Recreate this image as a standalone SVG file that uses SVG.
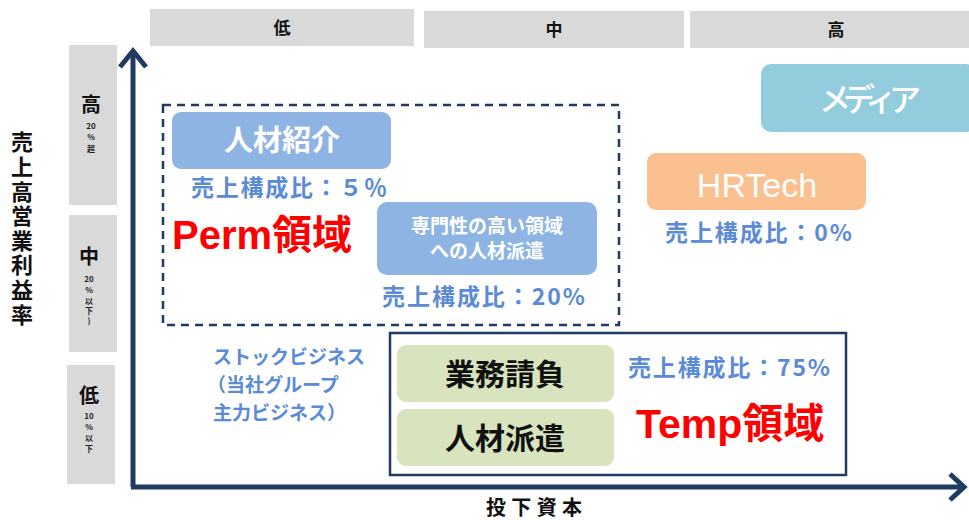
<svg xmlns="http://www.w3.org/2000/svg" width="969" height="520" viewBox="0 0 969 520">
<style>
.jp{font-family:"Noto Sans CJK JP","Liberation Sans",sans-serif}
.hdr{fill:#d9d9d9}
.hdrt{font-size:17px;font-weight:bold;fill:#111;text-anchor:middle}
.sm{font-size:8px;font-weight:bold;fill:#222;text-anchor:middle}
.ratio{font-size:23px;font-weight:bold;fill:#5b8bd6}
.red{font-weight:bold;fill:#ff0000}
.wt{fill:#ffffff;text-anchor:middle}
.blk{fill:#111;text-anchor:middle;font-size:30px;font-weight:bold}
.axis{stroke:#1f3b62;stroke-width:5;fill:none}
</style>
<rect width="969" height="520" fill="#ffffff"/>

<g id="header-low"><rect class="hdr" x="150" y="9" width="264" height="37"/><text class="jp hdrt" x="282" y="34">低</text></g>
<g id="header-mid"><rect class="hdr" x="424" y="11" width="260" height="37"/><text class="jp hdrt" x="554" y="36">中</text></g>
<g id="header-high"><rect class="hdr" x="690" y="11" width="279" height="37"/><text class="jp hdrt" x="836" y="36">高</text></g>

<g id="row-high"><rect class="hdr" x="69" y="45" width="48" height="160"/>
<text class="jp" font-size="20" font-weight="bold" fill="#111" text-anchor="middle" x="91" y="112">高</text>
<text class="jp sm" x="91" y="129">20</text><text class="jp sm" x="91" y="140">%</text><text class="jp sm" x="91" y="152">超</text></g>
<g id="row-mid"><rect class="hdr" x="69" y="215" width="48" height="137"/>
<text class="jp" font-size="20" font-weight="bold" fill="#111" text-anchor="middle" x="89" y="264">中</text>
<text class="jp sm" x="89" y="282">20</text><text class="jp sm" x="89" y="293">%</text><text class="jp sm" x="89" y="304">以</text><text class="jp sm" x="89" y="314">下</text><text class="jp sm" x="89" y="324">)</text></g>
<g id="row-low"><rect class="hdr" x="67" y="365" width="48" height="119"/>
<text class="jp" font-size="20" font-weight="bold" fill="#111" text-anchor="middle" x="89" y="403">低</text>
<text class="jp sm" x="89" y="419">10</text><text class="jp sm" x="89" y="430">%</text><text class="jp sm" x="89" y="441">以</text><text class="jp sm" x="89" y="452">下</text></g>

<g id="y-title"><text class="jp" font-size="22" font-weight="bold" fill="#111" x="22" y="131" style="writing-mode:vertical-rl" letter-spacing="2.6">売上高営業利益率</text></g>

<g id="connectors">
<path class="axis" d="M133 487 V52"/>
<path class="axis" d="M120 67 L133 51 L146 67"/>
<path class="axis" d="M131 487 H963"/>
<path class="axis" d="M950 474 L964 487 L950 500"/>
</g>

<g id="x-title"><text class="jp" font-size="20" font-weight="bold" fill="#111" x="486" y="515" textLength="96">投下資本</text></g>

<g id="perm-area">
<rect x="163" y="105" width="456" height="220" fill="none" stroke="#1f3b62" stroke-width="2.5" stroke-dasharray="8,6"/>
<text class="jp red" font-size="40" x="172" y="249"><tspan font-family="Liberation Sans,sans-serif">Perm</tspan>領域</text>
</g>

<g id="jinzai-shokai">
<rect x="172" y="112" width="219" height="57" rx="9" fill="#8eb4e3"/>
<text class="jp wt" font-size="29" font-weight="bold" x="282" y="151">人材紹介</text>
<text class="jp ratio" x="191" y="196" textLength="196">売上構成比：５％</text>
</g>

<g id="senmon">
<rect x="377" y="202" width="220" height="73" rx="10" fill="#8eb4e3"/>
<text class="jp wt" font-size="19" font-weight="bold" x="487" y="233">専門性の高い領域</text>
<text class="jp wt" font-size="19" font-weight="bold" x="487" y="258">への人材派遣</text>
<text class="jp ratio" x="382" y="305" textLength="203">売上構成比：20%</text>
</g>

<g id="media">
<rect x="761" y="64" width="215" height="68" rx="10" fill="#93cddd"/>
<text class="jp wt" font-size="32" font-weight="500" x="870" y="111" textLength="102">メディア</text>
</g>

<g id="hrtech">
<rect x="647" y="153" width="219" height="57" rx="9" fill="#fac090"/>
<text class="wt" font-family="Liberation Sans,sans-serif" font-size="34" x="757" y="197">HRTech</text>
<text class="jp ratio" x="665" y="241" textLength="187">売上構成比：0%</text>
</g>

<g id="stock">
<text class="jp" font-size="19" font-weight="bold" fill="#5b8bd6">
<tspan x="213" y="364">ストックビジネス</tspan>
<tspan x="207" y="392">（当社グループ</tspan>
<tspan x="213" y="420">主力ビジネス）</tspan></text>
</g>

<g id="temp-area">
<rect x="390" y="333" width="456" height="142" fill="none" stroke="#1f3b62" stroke-width="2.5"/>
<text class="jp ratio" x="628" y="376" textLength="202">売上構成比：75%</text>
<text class="jp red" font-size="41" x="636" y="438"><tspan font-family="Liberation Sans,sans-serif">Temp</tspan>領域</text>
</g>

<g id="gyomu-ukeoi">
<rect x="397" y="345" width="217" height="57" rx="9" fill="#d7e4bd"/>
<text class="jp blk" x="505" y="385">業務請負</text>
</g>

<g id="jinzai-haken">
<rect x="397" y="409" width="217" height="57" rx="9" fill="#d7e4bd"/>
<text class="jp blk" x="505" y="449">人材派遣</text>
</g>
</svg>
